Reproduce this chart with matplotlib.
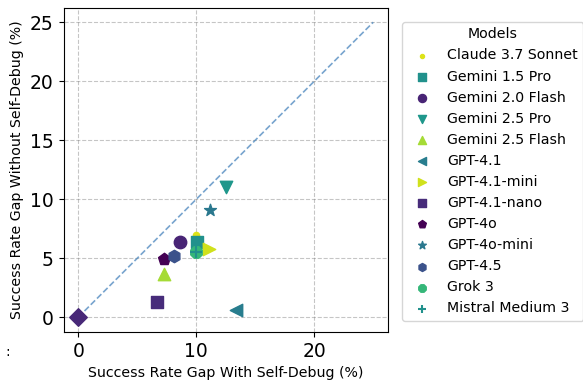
import matplotlib
matplotlib.use('Agg')
import matplotlib.pyplot as plt

# success rate gaps (%)
models = ['Claude 3.7 Sonnet', 'Gemini 1.5 Pro', 'Gemini 2.0 Flash', 'Gemini 2.5 Pro',
          'Gemini 2.5 Flash', 'GPT-4.1', 'GPT-4.1-mini', 'GPT-4.1-nano', 'GPT-4o',
          'GPT-4o-mini', 'GPT-4.5', 'Grok 3', 'Mistral Medium 3', '_baseline']
gap_with_debug = [10.0, 10.1, 8.6, 12.5, 7.3, 13.4, 11.1, 6.7, 7.3, 11.2, 8.1, 10.0, 10.0, 0.0]
gap_without_debug = [7.0, 6.4, 6.4, 11.0, 3.7, 0.6, 5.8, 1.3, 4.9, 9.1, 5.2, 5.5, 5.5, 0.0]
markers = ['.', 's', 'o', 'v', '^', '<', '>', 's', 'p', '*', 'h', '8', '+', 'D']
colors = ['#dde318', '#21918c', '#482475', '#1f978b', '#a5db36', '#287d8e', '#d0e11c',
          '#472c7a', '#440154', '#2a788e', '#3b528b', '#35b779', '#21918c', '#482878']

fig = plt.figure(figsize=(5.83, 3.80), dpi=100)
ax = fig.add_axes([63.5 / 583, 1 - 332 / 380, 324.5 / 583, 324.5 / 380])

for name, x, y, m, c in zip(models, gap_with_debug, gap_without_debug, markers, colors):
    ax.scatter(x, y, marker=m, color=c, s=80, label=name, zorder=3)

ax.plot([0, 25], [0, 25], linestyle='--', color='#4a86bd', alpha=0.75, linewidth=1.2, zorder=2)

ax.set_xlim(-1.25, 26.25)
ax.set_ylim(-1.25, 26.25)
ax.set_xticks([0, 10, 20])
ax.set_yticks([0, 5, 10, 15, 20, 25])
ax.tick_params(labelsize=13.5)
ax.grid(True, linestyle='--', color='gray', alpha=0.45, linewidth=0.8)
ax.set_axisbelow(True)

ax.set_xlabel('Success Rate Gap With Self-Debug (%)', fontsize=10.2)
ax.set_ylabel('Success Rate Gap Without Self-Debug (%)', fontsize=10.2)

ax.legend(title='Models', loc='upper left', bbox_to_anchor=(401.7 / 583, 1 - 21.7 / 380),
          bbox_transform=fig.transFigure, borderaxespad=0, fontsize=10.2, title_fontsize=10.2,
          markerscale=0.65, labelspacing=0.5)

fig.text(5 / 583, 1 - 352 / 380, ':', fontsize=10, va='center')

plt.savefig('out.png', dpi=100)
